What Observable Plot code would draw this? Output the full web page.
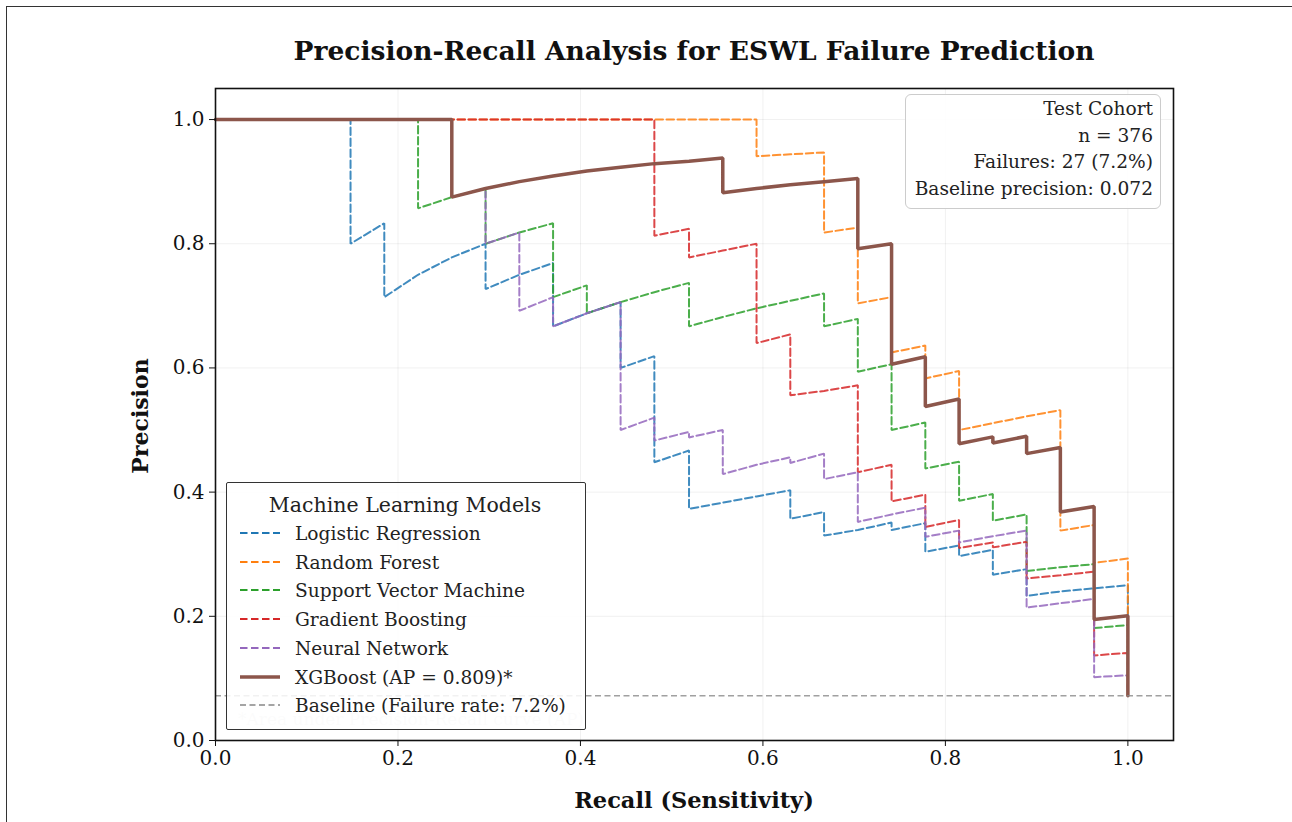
<!DOCTYPE html>
<html><head><meta charset="utf-8">
<script src="https://cdn.jsdelivr.net/npm/d3@7"></script>
<script src="https://cdn.jsdelivr.net/npm/@observablehq/plot@0.6"></script>
<style>
body{margin:0;background:#fff;font-family:"DejaVu Serif",serif;color:#111;}
#wrap{position:relative;width:1292px;height:822px;overflow:hidden;background:#fff;}
#chart{position:absolute;left:0;top:0;}
.abs{position:absolute;white-space:nowrap;}
</style></head><body><div id="wrap"><div id="chart"></div></div>
<script>
// ---- data: [recall, precision] vertices ----
const logisticRegression = [[0,1],[0.148,1],[0.148,0.8],[0.185,0.833],[0.185,0.714],[0.222,0.75],[0.259,0.778],[0.296,0.8],[0.296,0.727],[0.333,0.75],[0.370,0.769],[0.370,0.667],[0.407,0.688],[0.444,0.706],[0.444,0.6],[0.481,0.619],[0.481,0.448],[0.519,0.467],[0.519,0.373],[0.556,0.383],[0.593,0.393],[0.630,0.403],[0.630,0.357],[0.667,0.368],[0.667,0.33],[0.704,0.339],[0.741,0.351],[0.741,0.339],[0.778,0.35],[0.778,0.304],[0.815,0.314],[0.815,0.297],[0.852,0.307],[0.852,0.267],[0.889,0.276],[0.889,0.233],[0.926,0.24],[0.963,0.245],[1,0.25],[1,0.072]];
const randomForest = [[0,1],[0.593,1],[0.593,0.941],[0.630,0.944],[0.667,0.947],[0.667,0.818],[0.704,0.826],[0.704,0.704],[0.741,0.714],[0.741,0.625],[0.778,0.636],[0.778,0.583],[0.815,0.595],[0.815,0.5],[0.852,0.511],[0.889,0.522],[0.926,0.532],[0.926,0.338],[0.963,0.347],[0.963,0.286],[1,0.293],[1,0.072]];
const supportVectorMachine = [[0,1],[0.222,1],[0.222,0.857],[0.259,0.875],[0.296,0.889],[0.296,0.8],[0.333,0.818],[0.370,0.833],[0.370,0.714],[0.407,0.733],[0.407,0.688],[0.444,0.706],[0.481,0.722],[0.519,0.737],[0.519,0.667],[0.556,0.682],[0.593,0.696],[0.630,0.708],[0.667,0.72],[0.667,0.667],[0.704,0.679],[0.704,0.594],[0.741,0.606],[0.741,0.5],[0.778,0.512],[0.778,0.438],[0.815,0.449],[0.815,0.386],[0.852,0.397],[0.852,0.354],[0.889,0.364],[0.889,0.273],[0.926,0.279],[0.963,0.284],[0.963,0.181],[1,0.186],[1,0.072]];
const gradientBoosting = [[0,1],[0.481,1],[0.481,0.813],[0.519,0.824],[0.519,0.778],[0.556,0.789],[0.593,0.8],[0.593,0.64],[0.630,0.654],[0.630,0.556],[0.667,0.563],[0.704,0.572],[0.704,0.432],[0.741,0.444],[0.741,0.385],[0.778,0.396],[0.778,0.344],[0.815,0.355],[0.815,0.31],[0.852,0.319],[0.852,0.311],[0.889,0.32],[0.889,0.261],[0.926,0.266],[0.963,0.272],[0.963,0.137],[1,0.141],[1,0.072]];
const neuralNetwork = [[0,1],[0.259,1],[0.259,0.875],[0.296,0.889],[0.296,0.8],[0.333,0.818],[0.333,0.692],[0.370,0.714],[0.370,0.667],[0.407,0.688],[0.444,0.706],[0.444,0.5],[0.481,0.52],[0.481,0.483],[0.519,0.497],[0.519,0.488],[0.556,0.5],[0.556,0.429],[0.593,0.444],[0.630,0.456],[0.630,0.447],[0.667,0.462],[0.667,0.421],[0.704,0.432],[0.704,0.352],[0.741,0.364],[0.778,0.375],[0.778,0.328],[0.815,0.338],[0.815,0.319],[0.852,0.329],[0.889,0.338],[0.889,0.214],[0.926,0.221],[0.963,0.228],[0.963,0.102],[1,0.105],[1,0.072]];
const xgboost = [[0,1],[0.259,1],[0.259,0.875],[0.296,0.889],[0.333,0.9],[0.370,0.909],[0.407,0.917],[0.444,0.923],[0.481,0.929],[0.519,0.933],[0.556,0.938],[0.556,0.882],[0.593,0.889],[0.630,0.895],[0.667,0.9],[0.704,0.905],[0.704,0.792],[0.741,0.8],[0.741,0.606],[0.778,0.618],[0.778,0.538],[0.815,0.55],[0.815,0.478],[0.852,0.489],[0.852,0.479],[0.889,0.49],[0.889,0.462],[0.926,0.472],[0.926,0.368],[0.963,0.377],[0.963,0.195],[1,0.201],[1,0.072]];
const baselinePrecision = 0.072;

const modelNames = ["Logistic Regression","Random Forest","Support Vector Machine","Gradient Boosting","Neural Network","XGBoost (AP = 0.809)*"];
const modelColors = ["#1f77b4","#ff7f0e","#2ca02c","#d62728","#9467bd","#8c564b"];
const modelSeries = [logisticRegression, randomForest, supportVectorMachine, gradientBoosting, neuralNetwork, xgboost];
const baselineLabel = "Baseline (Failure rate: 7.2%)";
const axisTicks = [0, 0.2, 0.4, 0.6, 0.8, 1.0];
const cohortLines = ["Test Cohort","n = 376","Failures: 27 (7.2%)","Baseline precision: 0.072"];

const FONT = "DejaVu Serif";
const DASH = "7.5,3.5";

const lineMarks = modelSeries.map((pts, i) => Plot.line(pts, {
  x: d => d[0], y: d => d[1],
  stroke: modelColors[i],
  strokeWidth: i === 5 ? 3.5 : 2,
  strokeDasharray: i === 5 ? null : DASH,
  strokeOpacity: i === 5 ? 1 : 0.85,
  strokeLinejoin: "miter"
}));

const chart = Plot.plot({
  width: 1292, height: 822,
  marginLeft: 215, marginRight: 119, marginTop: 88, marginBottom: 82,
  style: {fontFamily: FONT, fontSize: "20px", color: "#111", background: "transparent", overflow: "visible"},
  x: {domain: [0, 1.05]},
  y: {domain: [0, 1.05]},
  marks: [
    Plot.gridX(axisTicks, {stroke: "#000", strokeOpacity: 0.06}),
    Plot.gridY(axisTicks, {stroke: "#000", strokeOpacity: 0.06}),
    ...lineMarks,
    Plot.ruleY([baselinePrecision], {stroke: "#888", strokeWidth: 1.6, strokeDasharray: "6,3.5", strokeOpacity: 0.8}),
    Plot.frame({stroke: "#111", strokeWidth: 1.6}),
    Plot.axisX(axisTicks, {tickFormat: d3.format(".1f"), tickSize: 6, tickPadding: 4, label: null, fontSize: 20, stroke: "#111"}),
    Plot.axisY(axisTicks, {tickFormat: d3.format(".1f"), tickSize: 6, tickPadding: 5, label: null, fontSize: 20, stroke: "#111"})
  ]
});
const wrap = document.getElementById("wrap");
document.getElementById("chart").appendChild(chart);

function addText(txt, css) {
  const d = document.createElement("div");
  d.className = "abs";
  d.textContent = txt;
  Object.assign(d.style, css);
  wrap.appendChild(d);
  return d;
}
// outer border
const border = document.createElement("div");
Object.assign(border.style, {position:"absolute", left:"6px", top:"6px", width:"1300px", height:"830px", borderLeft:"1.5px solid #333", borderTop:"1.5px solid #333"});
wrap.appendChild(border);

addText("Precision-Recall Analysis for ESWL Failure Prediction", {left:"694px", top:"50px", transform:"translate(-50%,-50%)", fontSize:"26.5px", fontWeight:"bold", color:"#111"});
addText("Recall (Sensitivity)", {left:"694px", top:"800px", transform:"translate(-50%,-50%)", fontSize:"22.5px", fontWeight:"bold"});
addText("Precision", {left:"140px", top:"416px", transform:"translate(-50%,-50%) rotate(-90deg)", fontSize:"22px", fontWeight:"bold"});

// footnote text (partly under legend)
addText("*Area under Precision-Recall curve (AP)", {left:"238px", top:"719px", transform:"translateY(-50%)", fontSize:"17px", color:"#e4e4e4"});

// legend
const leg = document.createElement("div");
Object.assign(leg.style, {position:"absolute", left:"226px", top:"482px", width:"358px", height:"246px", border:"1.3px solid #333", background:"rgba(255,255,255,0.85)", borderRadius:"2px"});
wrap.appendChild(leg);
addText("Machine Learning Models", {left:"405px", top:"505px", transform:"translate(-50%,-50%)", fontSize:"20.5px", color:"#222"});
const legItems = modelNames.map((n, i) => ({name: n, color: modelColors[i], w: i === 5 ? 3.5 : 2, dash: i === 5 ? null : DASH}));
legItems.push({name: baselineLabel, color: "#888", w: 1.6, dash: "6,3.5"});
legItems.forEach((it, i) => {
  const y = 533 + i * 28.7;
  const ns = "http://www.w3.org/2000/svg";
  const s = document.createElementNS(ns, "svg");
  s.setAttribute("width", 44); s.setAttribute("height", 10);
  Object.assign(s.style, {position:"absolute", left:"239px", top:(y - 5) + "px"});
  const l = document.createElementNS(ns, "line");
  l.setAttribute("x1", 1); l.setAttribute("x2", 41); l.setAttribute("y1", 5); l.setAttribute("y2", 5);
  l.setAttribute("stroke", it.color); l.setAttribute("stroke-width", it.w);
  if (it.dash) l.setAttribute("stroke-dasharray", it.dash);
  s.appendChild(l);
  wrap.appendChild(s);
  addText(it.name, {left:"295px", top:y + "px", transform:"translateY(-50%)", fontSize:"18.6px", color:"#222"});
});

// cohort box
const box = document.createElement("div");
Object.assign(box.style, {position:"absolute", left:"905px", top:"94px", width:"254px", height:"113px", border:"1px solid #ccc", borderRadius:"6px", background:"rgba(255,255,255,0.9)"});
wrap.appendChild(box);
cohortLines.forEach((t, i) => {
  addText(t, {right:(1292 - 1153) + "px", top:(108 + i * 26.7) + "px", transform:"translateY(-50%)", fontSize:"18.6px", color:"#222", textAlign:"right"});
});
</script></body></html>
